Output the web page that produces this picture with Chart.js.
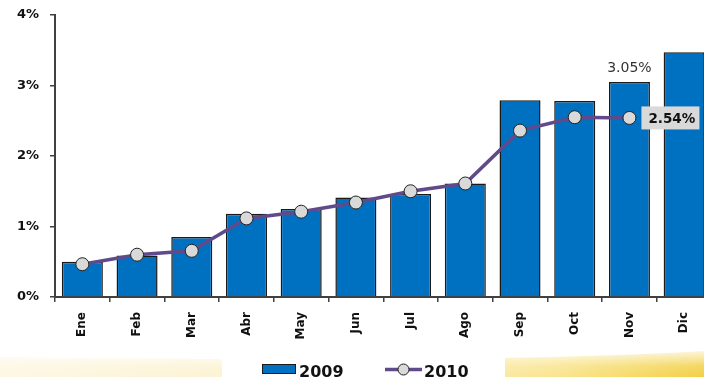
<!DOCTYPE html>
<html>
<head>
<meta charset="utf-8">
<script src="https://cdn.jsdelivr.net/npm/chart.js@4/dist/chart.umd.min.js"></script>
<style>
  html, body { margin: 0; padding: 0; background: #fff; overflow: hidden; }
  #wrap { position: relative; width: 719px; height: 377px; }
</style>
</head>
<body>
<div id="wrap"><canvas id="c" width="719" height="377"></canvas></div>
<script>
// Monthly rate, 2009 (bars) vs 2010 (line), in percent
const months = ['Ene', 'Feb', 'Mar', 'Abr', 'May', 'Jun', 'Jul', 'Ago', 'Sep', 'Oct', 'Nov', 'Dic'];
const values2009 = [0.50, 0.59, 0.85, 1.18, 1.25, 1.41, 1.46, 1.61, 2.79, 2.78, 3.05, 3.47];
const values2010 = [0.465, 0.60, 0.655, 1.115, 1.21, 1.34, 1.50, 1.61, 2.36, 2.55, 2.54, null];
const yTicks = [0, 1, 2, 3, 4];
const seriesNames = ['2009', '2010'];

const BLUE = '#0070c0';
const PURPLE = '#5f4b8b';
const DOT = '#d9d9d9';
const AXIS = '#404040';
const FONT = '"DejaVu Sans", Arial, sans-serif';

// Background: white page with a yellow swoosh along the bottom edge
const backgroundPlugin = {
  id: 'background',
  beforeDraw(chart) {
    const ctx = chart.ctx;
    const w = chart.width, h = chart.height;
    ctx.save();
    ctx.fillStyle = '#ffffff';
    ctx.fillRect(0, 0, w, h);
    const g = ctx.createLinearGradient(0, 0, 704, 0);
    g.addColorStop(0, 'rgba(253,247,228,1)');
    g.addColorStop(0.55, 'rgba(252,240,200,1)');
    g.addColorStop(0.8, 'rgba(249,228,140,1)');
    g.addColorStop(1, 'rgba(242,208,70,1)');
    ctx.fillStyle = g;
    ctx.beginPath();
    ctx.moveTo(0, 357);
    ctx.bezierCurveTo(250, 360, 540, 362, w, 350);
    ctx.lineTo(w, h);
    ctx.lineTo(0, h);
    ctx.closePath();
    ctx.fill();
    // soft white haze over the top of the swoosh
    const v = ctx.createLinearGradient(0, 350, 0, h);
    v.addColorStop(0, 'rgba(255,255,255,0.85)');
    v.addColorStop(0.6, 'rgba(255,255,255,0.15)');
    v.addColorStop(1, 'rgba(255,255,255,0)');
    ctx.fillStyle = v;
    ctx.fillRect(0, 350, w, h - 350);
    ctx.restore();
  }
};

// Value callouts and the bottom legend
const annotationPlugin = {
  id: 'annotations',
  afterDatasetsDraw(chart) {
    const ctx = chart.ctx;
    const nov = months.indexOf('Nov');
    const lineMeta = chart.getDatasetMeta(0);
    const barMeta = chart.getDatasetMeta(1);
    ctx.save();

    // 2009 November value above its bar
    const bar = barMeta.data[nov];
    ctx.font = '14px ' + FONT;
    ctx.fillStyle = '#333333';
    ctx.textAlign = 'center';
    ctx.textBaseline = 'alphabetic';
    ctx.fillText(values2009[nov].toFixed(2) + '%', bar.x, bar.y - 9.5);

    // 2010 November value in a grey box right of its point
    const pt = lineMeta.data[nov];
    const bx = pt.x + 12, by = pt.y - 11.5;
    ctx.fillStyle = '#d9d9d9';
    ctx.fillRect(bx, by, 58, 23);
    ctx.font = 'bold 13.5px ' + FONT;
    ctx.fillStyle = '#111111';
    ctx.textAlign = 'left';
    ctx.textBaseline = 'middle';
    ctx.fillText(values2010[nov].toFixed(2) + '%', bx + 7, pt.y + 1.5);

    // Legend
    ctx.fillStyle = '#ffffff';
    ctx.fillRect(222, 353, 283, 24);
    ctx.fillStyle = BLUE;
    ctx.strokeStyle = '#1a1a1a';
    ctx.lineWidth = 1;
    ctx.fillRect(262.5, 364.5, 33, 9);
    ctx.strokeRect(262.5, 364.5, 33, 9);
    ctx.font = 'bold 16px ' + FONT;
    ctx.fillStyle = '#111111';
    ctx.textAlign = 'left';
    ctx.textBaseline = 'alphabetic';
    ctx.fillText(seriesNames[0], 299, 377);

    ctx.strokeStyle = PURPLE;
    ctx.lineWidth = 3.5;
    ctx.beginPath();
    ctx.moveTo(385, 369.5);
    ctx.lineTo(422, 369.5);
    ctx.stroke();
    ctx.beginPath();
    ctx.arc(403.5, 369.5, 5.5, 0, Math.PI * 2);
    ctx.fillStyle = DOT;
    ctx.fill();
    ctx.strokeStyle = '#222222';
    ctx.lineWidth = 1;
    ctx.stroke();
    ctx.fillStyle = '#111111';
    ctx.fillText(seriesNames[1], 424, 377);

    ctx.restore();
  }
};

new Chart(document.getElementById('c'), {
  data: {
    labels: months,
    datasets: [
      {
        type: 'line',
        label: seriesNames[1],
        data: values2010,
        borderColor: PURPLE,
        borderWidth: 3.5,
        pointRadius: 6.5,
        pointBackgroundColor: DOT,
        pointBorderColor: '#222222',
        pointBorderWidth: 1,
        tension: 0,
        spanGaps: false,
        order: 0
      },
      {
        type: 'bar',
        label: seriesNames[0],
        data: values2009,
        backgroundColor: BLUE,
        borderColor: '#1a1a1a',
        borderWidth: 1.5,
        categoryPercentage: 1,
        barPercentage: 0.75,
        order: 1
      }
    ]
  },
  options: {
    responsive: false,
    animation: false,
    devicePixelRatio: 1,
    layout: { padding: { top: 15, right: 0, left: 0, bottom: 0 } },
    plugins: {
      legend: { display: false },
      tooltip: { enabled: false }
    },
    scales: {
      x: {
        type: 'category',
        offset: true,
        grid: { display: true, drawOnChartArea: false, drawTicks: true, tickLength: 5, color: AXIS, lineWidth: 1.5, offset: true },
        border: { display: true, color: AXIS, width: 2 },
        ticks: {
          minRotation: 90,
          maxRotation: 90,
          padding: 10,
          color: '#111111',
          font: { family: FONT, size: 12, weight: 'bold' }
        },
        afterFit(scale) { scale.height = 80; }
      },
      y: {
        type: 'linear',
        min: yTicks[0],
        max: yTicks[yTicks.length - 1],
        afterBuildTicks(scale) { scale.ticks = yTicks.map(v => ({ value: v })); },
        grid: { display: true, drawOnChartArea: false, drawTicks: true, tickLength: 5, color: AXIS, lineWidth: 1.5 },
        border: { display: true, color: AXIS, width: 2 },
        ticks: {
          padding: 11,
          color: '#111111',
          font: { family: FONT, size: 13, weight: 'bold' },
          callback: v => v + '%'
        },
        afterFit(scale) {
          scale.width = 55;
          // the plot top is set by the layout padding alone
          scale.paddingTop = 0;
          scale.paddingBottom = 0;
        }
      }
    }
  },
  plugins: [backgroundPlugin, annotationPlugin]
});
</script>
</body>
</html>
